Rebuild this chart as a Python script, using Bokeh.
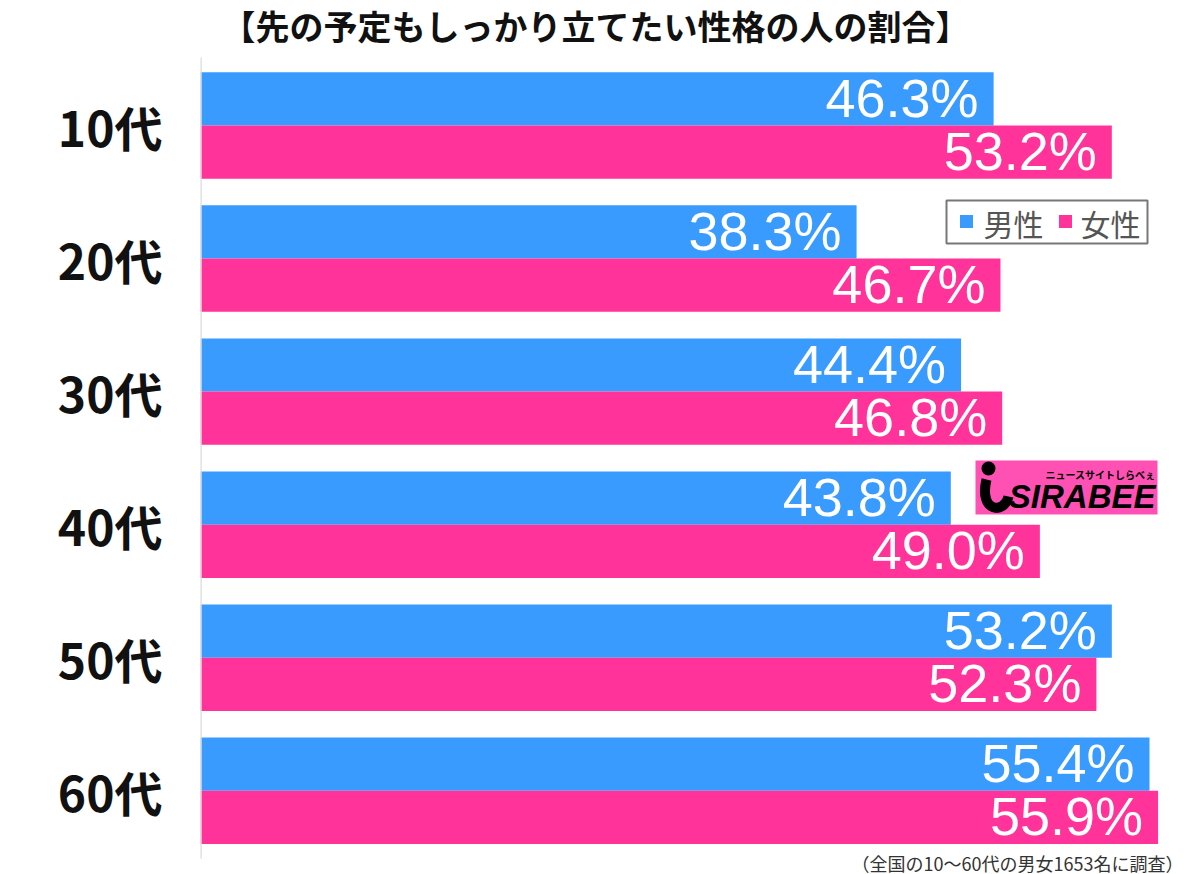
from bokeh.plotting import figure
from bokeh.models import Range1d, FixedTicker, Label, BoxAnnotation
from bokeh.core.properties import value
from bokeh.embed import file_html
from bokeh.resources import INLINE

# ---- data ----
ages = ["10代", "20代", "30代", "40代", "50代", "60代"]
male = [46.3, 38.3, 44.4, 43.8, 53.2, 55.4]
female = [53.2, 46.7, 46.8, 49.0, 52.3, 55.9]
series_names = ["男性", "女性"]
title_text = "【先の予定もしっかり立てたい性格の人の割合】"
note_text = "（全国の10〜60代の男女1653名に調査）"

BLUE = "#3a9bff"
PINK = "#ff3399"

W, H = 1200, 874
LEFT = 200
frame_w = W - LEFT
px_per_pct = 17.13
px_per_row = 133.06
first_row_px = 125
x_end = frame_w / px_per_pct
y_top = -first_row_px / px_per_row
y_bot = y_top + H / px_per_row

def px2x(px):
    return (px - LEFT) / px_per_pct

def px2y(py):
    return y_top + py / px_per_row

p = figure(width=W, height=H, output_backend="svg", toolbar_location=None,
           x_range=Range1d(0, x_end), y_range=Range1d(y_bot, y_top),
           x_axis_location=None, min_border_left=LEFT, min_border_right=0,
           min_border_top=0, min_border_bottom=0)
p.outline_line_color = None
p.grid.visible = False
p.background_fill_color = "white"
p.border_fill_color = "white"

idx = list(range(len(ages)))
ym = [i - 0.2 for i in idx]
yf = [i + 0.2 for i in idx]

p.hbar(y=ym, left=0, right=male, height=0.4, fill_color=BLUE, line_color=None)
p.hbar(y=yf, left=0, right=female, height=0.4, fill_color=PINK, line_color=None)

for ys, vals in ((ym, male), (yf, female)):
    p.text(x=vals, y=ys, text=[f"{v:.1f}%" for v in vals], text_align="right",
           text_baseline="middle", x_offset=-15, y_offset=-1,
           text_font=value("Liberation Sans"), text_font_size="54px", text_color="white")

# category axis (labels) + the thin baseline
ax = p.yaxis[0]
ax.ticker = FixedTicker(ticks=idx)
ax.major_label_overrides = {i: a for i, a in enumerate(ages)}
ax.major_label_text_font = "Noto Sans CJK JP"
ax.major_label_text_font_size = "48px"
ax.major_label_text_font_style = "bold"
ax.major_label_text_color = "#111111"
ax.major_label_standoff = 38
ax.major_tick_out = 0
ax.major_tick_in = 0
ax.minor_tick_out = 0
ax.minor_tick_in = 0
ax.axis_line_color = None
p.segment(x0=[0], x1=[0], y0=[px2y(57)], y1=[px2y(858)], line_color="#dcdcdc", line_width=2.5)

# legend (drawn by hand for exact box size)
p.add_layout(BoxAnnotation(left=px2x(946), right=px2x(1147), top=px2y(200), bottom=px2y(243),
                           fill_color="white", fill_alpha=1, line_color="#777777", line_alpha=1,
                           line_width=2, level="underlay"))
leg_sq_px = [966, 1065]
leg_txt_px = [983, 1080]
p.rect(x=[px2x(v) for v in leg_sq_px], y=[px2y(221)] * 2, width=13, height=13,
       width_units="screen", height_units="screen", fill_color=[BLUE, PINK], line_color=None)
p.text(x=[px2x(v) for v in leg_txt_px], y=[px2y(222)] * 2, text=series_names,
       text_align="left", text_baseline="middle", text_font=value("Noto Sans CJK JP"),
       text_font_size="30px", text_color="#555555")

# logo
p.add_layout(BoxAnnotation(left=px2x(975), right=px2x(1157), top=px2y(460), bottom=px2y(514),
                           fill_color="#ff50b4", fill_alpha=1, line_color=None, level="underlay"))
p.circle(x=[px2x(988)], y=[px2y(468)], radius=7, radius_units="screen", fill_color="black", line_color=None)
p.bezier(x0=[px2x(986)], y0=[px2y(479)], x1=[px2x(1008)], y1=[px2y(496)],
         cx0=[px2x(978)], cy0=[px2y(512)], cx1=[px2x(1004)], cy1=[px2y(514)],
         line_color="black", line_width=10)
p.add_layout(Label(x=px2x(1155), y=px2y(496), text="SIRABEE", text_align="right", text_baseline="middle",
                   text_font="Liberation Sans", text_font_style="bold italic", text_font_size="33px", text_color="black"))
p.add_layout(Label(x=px2x(1155), y=px2y(474), text="ニュースサイトしらべぇ", text_align="right", text_baseline="middle",
                   text_font="Noto Sans CJK JP", text_font_style="bold", text_font_size="10px", text_color="black"))

# title and note
p.add_layout(Label(x=px2x(595), y=px2y(25), text=title_text, text_align="center", text_baseline="middle",
                   text_font="Noto Sans CJK JP", text_font_style="bold", text_font_size="34px", text_color="#111111"))
p.add_layout(Label(x=px2x(1183), y=px2y(862), text=note_text, text_align="right", text_baseline="middle",
                   text_font="Noto Sans CJK JP", text_font_size="18px", text_color="#333333"))

open("out.html", "w").write(file_html(p, INLINE))
